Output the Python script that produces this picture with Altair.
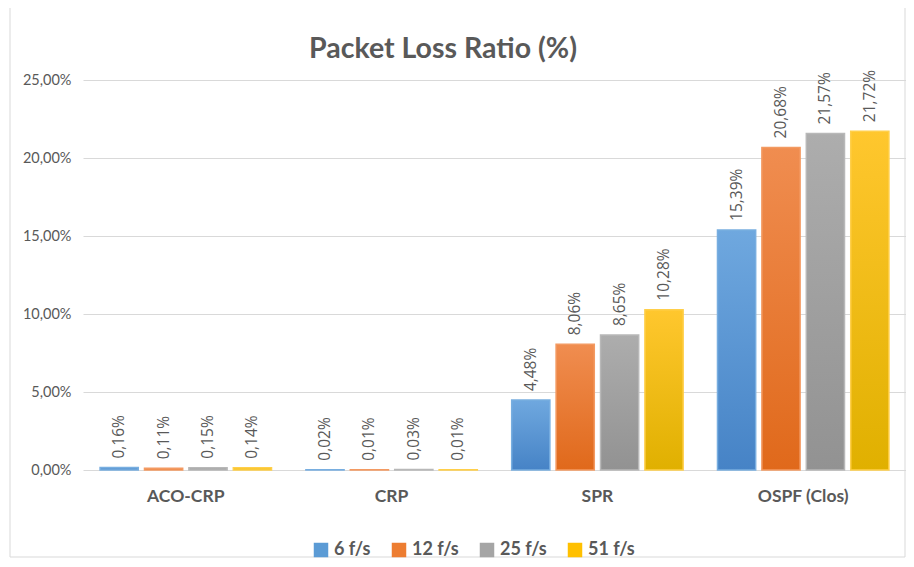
import altair as alt
import pandas as pd

title_text = "Packet Loss Ratio (%)"
categories = ["ACO-CRP", "CRP", "SPR", "OSPF (Clos)"]
series = ["6 f/s", "12 f/s", "25 f/s", "51 f/s"]
values = {
    "6 f/s": [0.16, 0.02, 4.48, 15.39],
    "12 f/s": [0.11, 0.01, 8.06, 20.68],
    "25 f/s": [0.15, 0.03, 8.65, 21.57],
    "51 f/s": [0.14, 0.01, 10.28, 21.72],
}
y_ticks = [0, 5, 10, 15, 20, 25]

flat = ["#5b9bd5", "#ed7d31", "#a5a5a5", "#ffc000"]
grad_top = ["#6fa8df", "#f08d50", "#adadad", "#ffc72e"]
grad_bot = ["#4683c6", "#e0691b", "#929292", "#e0b000"]
strokes = ["#78aee0", "#f39a62", "#b8b8b8", "#ffcf4a"]

rows = []
for s in series:
    for c, v in zip(categories, values[s]):
        rows.append({"cat": c, "series": s, "v": v})
df = pd.DataFrame(rows)

FONT = "Lato"
GRAY = "#595959"

x_enc = alt.X("cat:N", sort=categories,
              scale=alt.Scale(paddingInner=0.167, paddingOuter=0.083),
              axis=alt.Axis(title=None, labelAngle=0, labelFontSize=17.5, labelFontWeight="bold",
                            labelColor=GRAY, labelFont=FONT, labelPadding=17, ticks=False,
                            domain=False))
xo_enc = alt.XOffset("series:N", sort=series, scale=alt.Scale(domain=series, paddingInner=0.14, paddingOuter=0))
y_enc = alt.Y("v:Q", scale=alt.Scale(domain=[0, 25], nice=False),
              axis=alt.Axis(title=None, values=y_ticks, ticks=False, domain=False,
                            labelExpr="replace(format(datum.value, '.2f'), '.', ',') + '%'",
                            labelFontSize=14.5, labelColor=GRAY, labelFont=FONT, labelPadding=12,
                            gridColor="#d9d9d9", gridWidth=1))

base = alt.Chart(df).mark_bar().encode(
    x=x_enc, xOffset=xo_enc, y=y_enc,
    color=alt.Color("series:N", sort=series,
                    scale=alt.Scale(domain=series, range=flat),
                    legend=alt.Legend(title=None, orient="none", direction="horizontal",
                                      legendX=229, legendY=461, symbolType="square",
                                      symbolSize=210, symbolStrokeWidth=0,
                                      labelFontSize=18, labelFontWeight="bold",
                                      labelColor=GRAY, labelFont=FONT, columnPadding=19,
                                      labelOffset=4)),
)

layers = [base]
for i, s in enumerate(series):
    g = alt.Gradient(gradient="linear", x1=0, x2=0, y1=0, y2=1,
                     stops=[alt.GradientStop(color=grad_top[i], offset=0),
                            alt.GradientStop(color=grad_bot[i], offset=1)])
    layers.append(
        alt.Chart(df).transform_filter(alt.datum.series == s)
        .mark_bar(fill=g, stroke=strokes[i], strokeWidth=1.5)
        .encode(x=x_enc, xOffset=xo_enc, y=y_enc)
    )

labels = alt.Chart(df).transform_calculate(
    lab="replace(format(datum.v, '.2f'), '.', ',') + '%'"
).mark_text(angle=270, align="left", baseline="middle", dx=9, fontSize=15.5,
            color=GRAY, font="Open Sans").encode(
    x=x_enc, xOffset=xo_enc, y=y_enc, text="lab:N")
layers.append(labels)

one = pd.DataFrame({"t": [title_text]})
border = alt.Chart(one).mark_rect(
    fill="transparent", stroke="#d9d9d9", strokeWidth=1).encode(
    x=alt.value(-73), x2=alt.value(822), y=alt.value(-73), y2=alt.value(477))
layers.insert(0, border)

title = alt.Chart(one).mark_text(
    fontSize=28.5, fontWeight="bold", color=GRAY, font=FONT,
    align="center", baseline="alphabetic").encode(
    x=alt.value(360), y=alt.value(-22), text="t:N")
layers.append(title)

chart = alt.layer(*layers).properties(
    width=823, height=390,
    autosize=alt.AutoSizeParams(type="none"),
    padding={"left": 75, "top": 72, "right": 0, "bottom": 89},
).configure_view(stroke=None)

chart.save("out.html", embed_options={"renderer": "svg", "actions": False})
